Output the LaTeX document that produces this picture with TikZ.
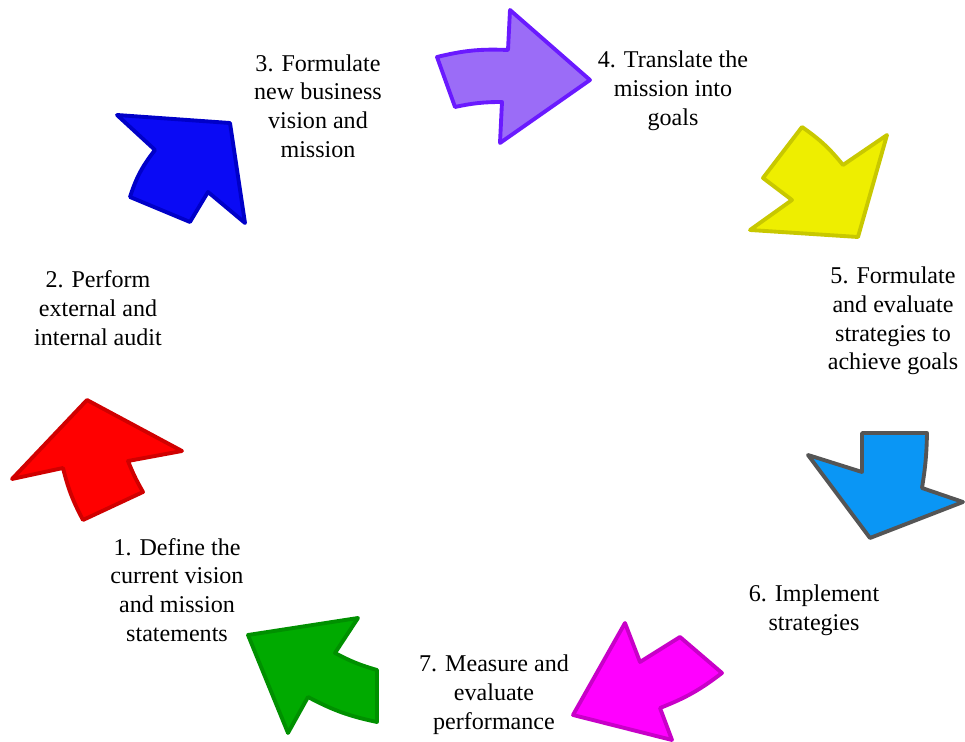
\documentclass[tikz,border=0pt]{standalone}
\usepackage{fontspec}
\setmainfont{LiberationSerif}[Extension=.ttf, UprightFont=*-Regular,
    BoldFont=*-Bold, ItalicFont=*-Italic, BoldItalicFont=*-BoldItalic]
\usepackage{tikz}
\tikzstyle{stage} = [align=center, inner sep=0pt,
    font=\fontsize{13.7}{16.4}\selectfont]
\tikzstyle{bigarrow} = [line width=2.2pt, line join=round]
\definecolor{redfill}{HTML}{FF0000}
\definecolor{redline}{HTML}{D00000}
\definecolor{bluefill}{HTML}{0A0AF5}
\definecolor{blueline}{HTML}{0000C8}
\definecolor{violetfill}{HTML}{9B6CF7}
\definecolor{violetline}{HTML}{6A1AFF}
\definecolor{yellowfill}{HTML}{EEEE00}
\definecolor{yellowline}{HTML}{C8C800}
\definecolor{skyfill}{HTML}{0A96F5}
\definecolor{skyline}{HTML}{555555}
\definecolor{pinkfill}{HTML}{FF00FF}
\definecolor{pinkline}{HTML}{C800C8}
\definecolor{greenfill}{HTML}{00AA00}
\definecolor{greenline}{HTML}{009000}

\begin{document}
\begin{tikzpicture}[x=0.02cm, y=-0.02cm]
    \useasboundingbox (0,0) rectangle (965,742);
    % Place arrows
    \draw [bigarrow, draw=redline, fill=redfill] (87,400) -- (182,451) -- (128,461)
        to[bend right=4] (143,492) -- (83,520) to[bend left=7] (63,468) -- (12,479) -- cycle;
    \draw [bigarrow, draw=blueline, fill=bluefill] (117,115) -- (230,123) -- (245,223)
        -- (208,192) -- (190,222) -- (130,197) to[bend left=10] (155,150) -- cycle;
    \draw [bigarrow, draw=violetline, fill=violetfill] (437,57) to[bend left=8] (508,50)
        -- (510,10) -- (590,80) -- (500,143) -- (502,102) to[bend right=6] (455,107) -- cycle;
    \draw [bigarrow, draw=yellowline, fill=yellowfill] (802,127) to[bend left=8] (843,165)
        -- (887,135) -- (858,237) -- (750,230) -- (792,200) -- (763,178) -- cycle;
    \draw [bigarrow, draw=skyline, fill=skyfill] (862,433) -- (927,433) to[bend left=4] (922,488)
        -- (963,502) -- (870,538) -- (808,455) -- (862,472) -- cycle;
    \draw [bigarrow, draw=pinkline, fill=pinkfill] (625,623) -- (640,662) -- (680,637)
        -- (722,673) to[bend left=8] (660,708) -- (672,740) -- (573,715) -- cycle;
    \draw [bigarrow, draw=greenline, fill=greenfill] (248,635) -- (358,618) -- (335,653)
        to[bend right=6] (377,670) -- (377,722) to[bend left=8] (308,697) -- (288,733) -- cycle;
    % Place texts
    \node [stage] (define) at (177,590) {1. Define the\\current vision\\and mission\\statements};
    \node [stage] (audit) at (98,308) {2. Perform\\external and\\internal audit};
    \node [stage] (vision) at (318,106) {3. Formulate\\new business\\vision and\\mission};
    \node [stage] (goals) at (673,91) {4. Translate the\\mission into\\goals};
    \node [stage] (strategies) at (893,321) {5. Formulate\\and evaluate\\strategies to\\achieve goals};
    \node [stage] (implement) at (814,610) {6. Implement\\strategies};
    \node [stage] (measure) at (494,695) {7. Measure and\\evaluate\\performance};
\end{tikzpicture}
\end{document}
